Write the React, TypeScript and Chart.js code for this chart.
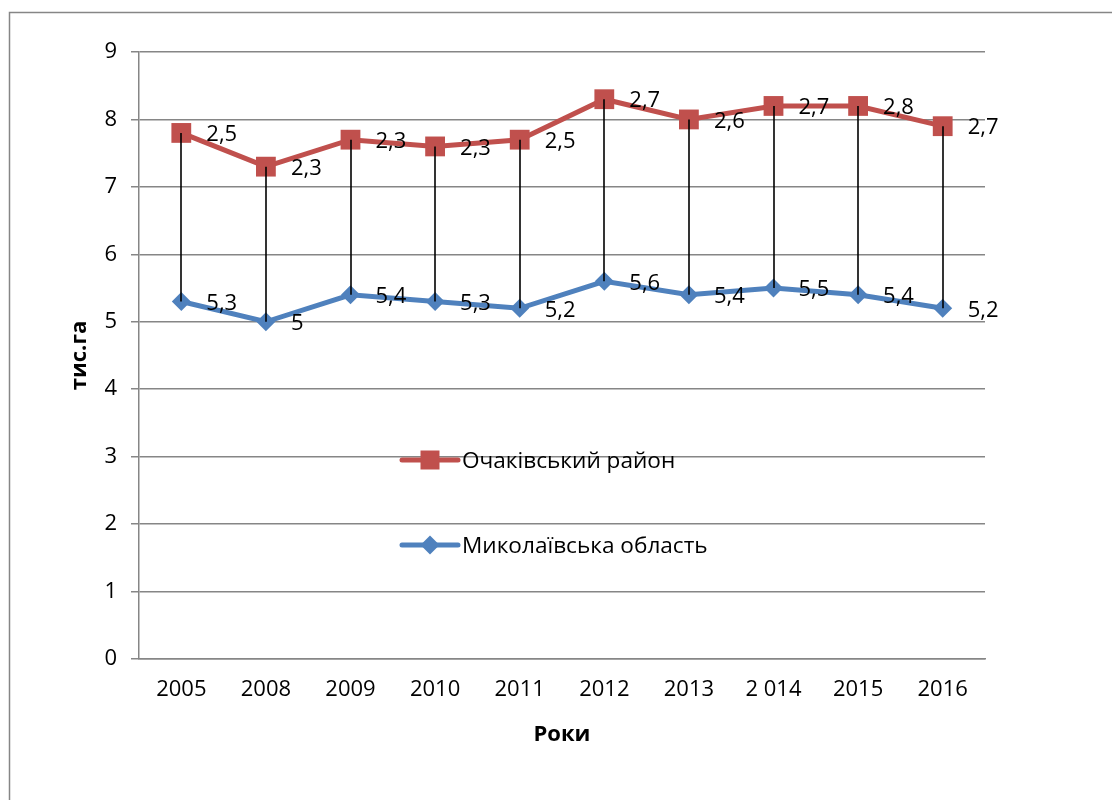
import React, { useEffect, useRef } from "react";
import { Chart, registerables } from "chart.js";

Chart.register(...registerables);

const years = ["2005", "2008", "2009", "2010", "2011", "2012", "2013", "2 014", "2015", "2016"];
const oblastValues = [5.3, 5.0, 5.4, 5.3, 5.2, 5.6, 5.4, 5.5, 5.4, 5.2];
const raionValues = [2.5, 2.3, 2.3, 2.3, 2.5, 2.7, 2.6, 2.7, 2.8, 2.7];
const raionName = "Очаківський район";
const oblastName = "Миколаївська область";
const yTicks = [0, 1, 2, 3, 4, 5, 6, 7, 8, 9];

const RED = "#C0504D";
const BLUE = "#4F81BD";
const GRID = "#868686";
const FONT = "'Open Sans', sans-serif";

const fmt = (v: number) => String(v).replace(".", ",");

const framePlugin = {
  id: "frame",
  beforeDraw(chart: any) {
    const ctx = chart.ctx;
    ctx.save();
    ctx.fillStyle = "#ffffff";
    ctx.fillRect(0, 0, chart.width, chart.height);
    ctx.strokeStyle = GRID;
    ctx.lineWidth = 1.5;
    ctx.strokeRect(9.5, 12.5, 1300, 1000);
    ctx.restore();
  },
};

const hiLoPlugin = {
  id: "hilo",
  afterDatasetsDraw(chart: any) {
    const ctx = chart.ctx;
    const lo = chart.getDatasetMeta(0).data;
    const hi = chart.getDatasetMeta(1).data;
    ctx.save();
    ctx.strokeStyle = "#000000";
    ctx.lineWidth = 1.6;
    for (let i = 0; i < lo.length; i++) {
      ctx.beginPath();
      ctx.moveTo(Math.round(hi[i].x), hi[i].y);
      ctx.lineTo(Math.round(lo[i].x), lo[i].y);
      ctx.stroke();
    }
    ctx.restore();
  },
};

const labelPlugin = {
  id: "pointLabels",
  afterDatasetsDraw(chart: any) {
    const ctx = chart.ctx;
    ctx.save();
    ctx.font = `22px ${FONT}`;
    ctx.fillStyle = "#000000";
    ctx.textAlign = "left";
    ctx.textBaseline = "middle";
    chart.data.datasets.forEach((ds: any, di: number) => {
      const meta = chart.getDatasetMeta(di);
      meta.data.forEach((pt: any, i: number) => {
        ctx.fillText(fmt(ds.data[i]), pt.x + 25, pt.y + 2);
      });
    });
    ctx.restore();
  },
};

const legendPlugin = {
  id: "innerLegend",
  afterDraw(chart: any) {
    const ctx = chart.ctx;
    const items = [
      { ds: chart.data.datasets[1], y: 460 },
      { ds: chart.data.datasets[0], y: 545 },
    ];
    ctx.save();
    items.forEach(({ ds, y }) => {
      const x0 = 402;
      const x1 = 458;
      ctx.strokeStyle = ds.borderColor;
      ctx.lineWidth = 5;
      ctx.lineCap = "round";
      ctx.beginPath();
      ctx.moveTo(x0, y);
      ctx.lineTo(x1, y);
      ctx.stroke();
      ctx.fillStyle = ds.backgroundColor;
      const cx = (x0 + x1) / 2;
      ctx.beginPath();
      if (ds.pointStyle === "rect") {
        ctx.rect(cx - 9.5, y - 9.5, 19, 19);
      } else {
        ctx.moveTo(cx - 9.5, y);
        ctx.lineTo(cx, y - 9.5);
        ctx.lineTo(cx + 9.5, y);
        ctx.lineTo(cx, y + 9.5);
        ctx.closePath();
      }
      ctx.fill();
      ctx.fillStyle = "#000000";
      ctx.font = `22.6px ${FONT}`;
      ctx.textAlign = "left";
      ctx.textBaseline = "middle";
      ctx.fillText(ds.label, 462, y + 2);
    });
    ctx.restore();
  },
};

export default function App() {
  const ref = useRef<HTMLCanvasElement | null>(null);

  useEffect(() => {
    if (!ref.current) return;
    const chart = new Chart(ref.current, {
      type: "line",
      data: {
        labels: years,
        datasets: [
          {
            label: oblastName,
            data: oblastValues,
            borderColor: BLUE,
            backgroundColor: BLUE,
            borderWidth: 5,
            pointStyle: "rectRot",
            pointRadius: 9.5,
            pointBorderWidth: 0,
            tension: 0,
          },
          {
            label: raionName,
            data: raionValues,
            borderColor: RED,
            backgroundColor: RED,
            borderWidth: 5,
            pointStyle: "rect",
            pointRadius: 14,
            pointBorderWidth: 0,
            tension: 0,
          },
        ],
      },
      options: {
        responsive: false,
        animation: false,
        layout: { padding: { left: 0, top: 52, right: 127, bottom: 40 } },
        plugins: {
          legend: { display: false },
          tooltip: { enabled: false },
        },
        scales: {
          x: {
            offset: true,
            grid: { display: false, drawTicks: false },
            border: { display: true, color: GRID, width: 1.5 },
            ticks: { color: "#000", font: { family: FONT, size: 22 }, padding: 18, maxRotation: 0, autoSkip: false },
            title: {
              display: true,
              text: "Роки",
              color: "#000",
              font: { family: FONT, size: 22, weight: "bold" },
              padding: { top: 0, bottom: 12 },
            },
            afterFit: (s: any) => {
              s.height = 101;
            },
          },
          y: {
            stacked: true,
            min: 0,
            max: 9,
            afterBuildTicks: (s: any) => {
              s.ticks = yTicks.map((v) => ({ value: v }));
            },
            grid: { color: GRID, lineWidth: 1.5, tickLength: 8, drawTicks: true },
            border: { display: true, color: GRID, width: 1.5 },
            ticks: { color: "#000", font: { family: FONT, size: 22 }, padding: 14 },
            title: {
              display: true,
              text: "тис.га",
              color: "#000",
              font: { family: FONT, size: 22, weight: "bold" },
              padding: { top: 67, bottom: 0 },
            },
            afterFit: (s: any) => {
              s.width = 139;
            },
          },
        },
      },
      plugins: [framePlugin, hiLoPlugin, labelPlugin, legendPlugin],
    });
    return () => chart.destroy();
  }, []);

  return (
    <div style={{ position: "fixed", left: 0, top: 0, width: 1112, height: 800, overflow: "hidden" }}>
      <canvas ref={ref} width={1112} height={800} style={{ display: "block" }} />
    </div>
  );
}
